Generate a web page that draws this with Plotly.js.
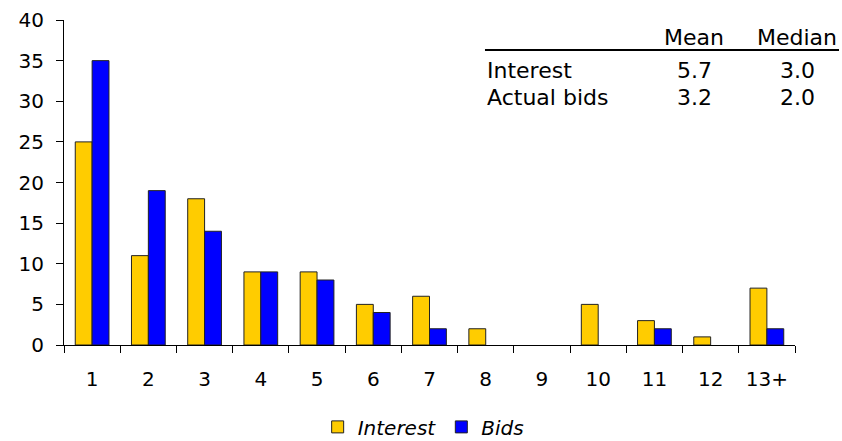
<!DOCTYPE html>
<html>
<head>
<meta charset="utf-8">
<script src="https://cdn.plot.ly/plotly-3.0.1.min.js"></script>
<style>
  html, body { margin: 0; padding: 0; background: #fff; }
  #chart { width: 842px; height: 441px; }
</style>
</head>
<body>
<div id="chart"></div>
<script>
// Number of auctions per participant
const categories = ['1', '2', '3', '4', '5', '6', '7', '8', '9', '10', '11', '12', '13+'];
const interestValues = [25, 11, 18, 9, 9, 5, 6, 2, 0, 5, 3, 1, 7];
const bidsValues = [35, 19, 14, 9, 8, 4, 2, 0, 0, 0, 2, 0, 2];

// Summary table in the upper right
const statHeaders = ['Mean', 'Median'];
const statRowLabels = ['Interest', 'Actual bids'];
const meanValues = ['5.7', '3.2'];
const medianValues = ['3.0', '2.0'];

const tickFont = { family: 'DejaVu Sans, Arial, sans-serif', size: 20, color: '#000' };
const tableFont = { family: 'DejaVu Sans, Arial, sans-serif', size: 22, color: '#000' };

// Empty bars get no outline so nothing is drawn along the axis
const outlineWidths = vals => vals.map(v => (v > 0 ? 1 : 0));

const traces = [
  {
    type: 'bar', name: 'Interest', x: categories, y: interestValues,
    marker: { color: '#FFCC00', line: { color: '#222', width: outlineWidths(interestValues) } }
  },
  {
    type: 'bar', name: 'Bids', x: categories, y: bidsValues,
    marker: { color: '#0000FF', line: { color: '#222', width: outlineWidths(bidsValues) } }
  }
];

// Table columns and rows (paper coordinates)
const colX = [0.8625, 1.0034];
const headerY = 0.945;
const rowY = [0.845, 0.762];
const labelX = 0.5759;

const annotations = [];
statHeaders.forEach((h, i) => {
  annotations.push({ xref: 'paper', yref: 'paper', x: colX[i], y: headerY,
    xanchor: 'center', yanchor: 'middle', text: h, showarrow: false, font: tableFont });
});
statRowLabels.forEach((lab, r) => {
  annotations.push({ xref: 'paper', yref: 'paper', x: labelX, y: rowY[r],
    xanchor: 'left', yanchor: 'middle', text: lab, showarrow: false, font: tableFont });
  annotations.push({ xref: 'paper', yref: 'paper', x: colX[0], y: rowY[r],
    xanchor: 'center', yanchor: 'middle', text: meanValues[r], showarrow: false, font: tableFont });
  annotations.push({ xref: 'paper', yref: 'paper', x: colX[1], y: rowY[r],
    xanchor: 'center', yanchor: 'middle', text: medianValues[r], showarrow: false, font: tableFont });
});

const layout = {
  width: 842, height: 441,
  margin: { l: 64, r: 47, t: 20, b: 96, autoexpand: false },
  paper_bgcolor: '#fff', plot_bgcolor: '#fff',
  barmode: 'group', bargap: 0.4, bargroupgap: 0,
  showlegend: true,
  legend: {
    orientation: 'h', xref: 'paper', x: 0.347, xanchor: 'left',
    yref: 'container', y: 0.032, yanchor: 'middle',
    font: Object.assign({}, tickFont, { style: 'italic' }),
    itemwidth: 30, tracegroupgap: 0
  },
  xaxis: {
    type: 'category', range: [-0.5, 12.5],
    showline: true, linecolor: '#000', linewidth: 1,
    ticks: 'outside', tickson: 'boundaries', ticklen: 7, tickcolor: '#000',
    ticklabelstandoff: 16,
    showgrid: false, zeroline: false, tickfont: tickFont
  },
  yaxis: {
    range: [0, 40], dtick: 5, tick0: 0,
    showline: true, linecolor: '#000', linewidth: 1,
    ticks: 'outside', ticklen: 7, tickcolor: '#000',
    ticklabelstandoff: 8,
    showgrid: false, zeroline: false, tickfont: tickFont
  },
  shapes: [{
    type: 'line', xref: 'paper', yref: 'paper',
    x0: labelX, x1: 1.0602, y0: 0.908, y1: 0.908,
    line: { color: '#000', width: 2 }
  }],
  annotations: annotations
};

Plotly.newPlot('chart', traces, layout, { staticPlot: true, displayModeBar: false });
</script>
</body>
</html>
